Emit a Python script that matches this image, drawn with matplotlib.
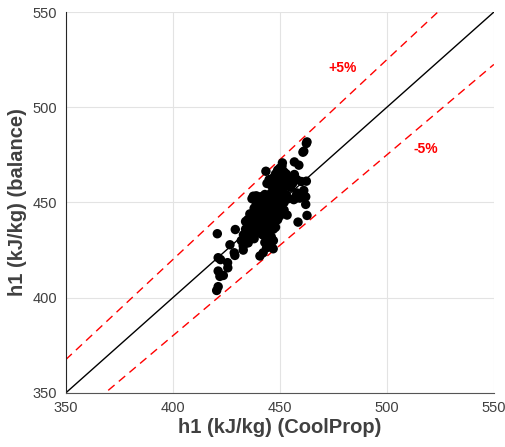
import numpy as np
import matplotlib
matplotlib.use('Agg')
import matplotlib.pyplot as plt

plt.rcParams['font.family'] = ['Liberation Sans', 'DejaVu Sans']

# h1 CoolProp (x) vs h1 from balance (y), kJ/kg
h1_coolprop = [
    434, 435, 436, 436, 437, 437, 438, 438, 438, 439, 439, 439, 440, 440, 440, 440,
    441, 441, 441, 441, 442, 442, 442, 442, 443, 443, 443, 443, 444, 444, 444, 444,
    445, 445, 445, 445, 446, 446, 446, 446, 447, 447, 447, 447, 448, 448, 448, 448,
    449, 449, 449, 449, 450, 450, 450, 450, 451, 451, 451, 452, 452, 452, 453, 453,
    454, 455, 456, 457, 458, 458,
    432, 433, 433, 434, 435, 436, 437, 438, 439, 437, 438, 440, 441, 436, 435, 434,
    443, 444, 445, 446, 447, 448, 447, 446, 448, 449, 450, 451, 452,
    444, 445, 446, 447, 448, 449, 450, 451, 452, 453, 454, 455,
    443.5, 462.4, 462.7, 461.2, 460.8, 456.8, 458.9, 451.2, 420.8, 429.2, 426.7,
    421.2, 422.3, 425.6, 425.7, 421.2, 423.6, 422.0, 421.2, 420.5, 428.7, 429.0,
    432.9, 432.9, 462.7, 458.5, 453.4, 462.1, 462.1, 461.2, 462.4, 460.1, 459.3,
    457.5, 456.5, 456.8, 454.7, 440.7, 442.2, 443.8, 446.9, 446.1, 435.2, 437.6,
    439.0, 443.0,
]
h1_balance = [
    432, 434, 431, 436, 433, 438, 435, 440, 431, 437, 443, 445, 434, 439, 442, 447,
    436, 441, 444, 450, 433, 438, 446, 448, 440, 443, 451, 436, 445, 448, 438, 453,
    442, 447, 450, 434, 444, 449, 455, 438, 446, 452, 458, 441, 448, 454, 460, 443,
    450, 456, 462, 445, 452, 458, 464, 447, 455, 460, 467, 450, 458, 463, 454, 465,
    452, 458, 460, 452, 455, 462,
    430, 433, 428, 436, 429, 440, 442, 447, 449, 452, 453, 452, 453, 444, 441, 440,
    429, 431, 428, 432, 436, 437, 430, 427, 440, 441, 443, 446, 446,
    460, 462, 459, 463, 465, 467, 468, 469, 466, 462, 459, 463,
    466.4, 481.0, 481.8, 476.9, 476.4, 471.3, 469.6, 470.8, 433.6, 435.8, 427.8,
    421.0, 420.0, 418.4, 415.7, 414.0, 411.7, 411.2, 405.8, 403.8, 423.6, 422.2,
    427.1, 425.0, 443.2, 439.7, 443.4, 449.0, 453.0, 456.3, 461.2, 461.0, 452.3,
    453.2, 451.5, 464.7, 459.3, 421.9, 423.6, 426.2, 425.7, 430.6, 428.8, 453.3,
    453.5, 454.2,
]

lims = [350, 550]
ticks = [350, 400, 450, 500, 550]

fig = plt.figure(figsize=(5.06, 4.47), dpi=100)
ax = fig.add_axes([0.130, 0.121, 0.846, 0.852])

ref = np.array(lims, dtype=float)
ax.plot(ref, ref, color='black', lw=1.0, zorder=2)
ax.plot(ref, 1.05 * ref, color='red', lw=1.0, ls=(0, (6, 4)), zorder=2)
ax.plot(ref, 0.95 * ref, color='red', lw=1.0, ls=(0, (6, 4)), zorder=2)

ax.scatter(h1_coolprop, h1_balance, s=46, color='black', edgecolors='none', zorder=3)

ax.text(479.5, 520.6, '+5%', color='red', fontsize=10, fontweight='bold', ha='center', va='center')
ax.text(518, 478.3, '-5%', color='red', fontsize=10, fontweight='bold', ha='center', va='center')

ax.set_xlim(lims)
ax.set_ylim(lims)
ax.set_xticks(ticks)
ax.set_yticks(ticks)
ax.grid(True, color='#e3e3e3', lw=0.8)
ax.set_axisbelow(True)
ax.tick_params(direction='in', length=0, labelsize=10.5, colors='#404040', pad=6)
for s in ['top', 'right']:
    ax.spines[s].set_visible(False)
ax.spines['left'].set_color('#262626')
ax.spines['bottom'].set_color('#555555')
for s in ['left', 'bottom']:
    ax.spines[s].set_linewidth(0.8)

ax.set_xlabel('h1 (kJ/kg) (CoolProp)', fontsize=14.5, fontweight='bold', color='#404040', labelpad=2)
ax.set_ylabel('h1 (kJ/kg) (balance)', fontsize=14.5, fontweight='bold', color='#404040', labelpad=4)

fig.savefig('out.png', dpi=100)
